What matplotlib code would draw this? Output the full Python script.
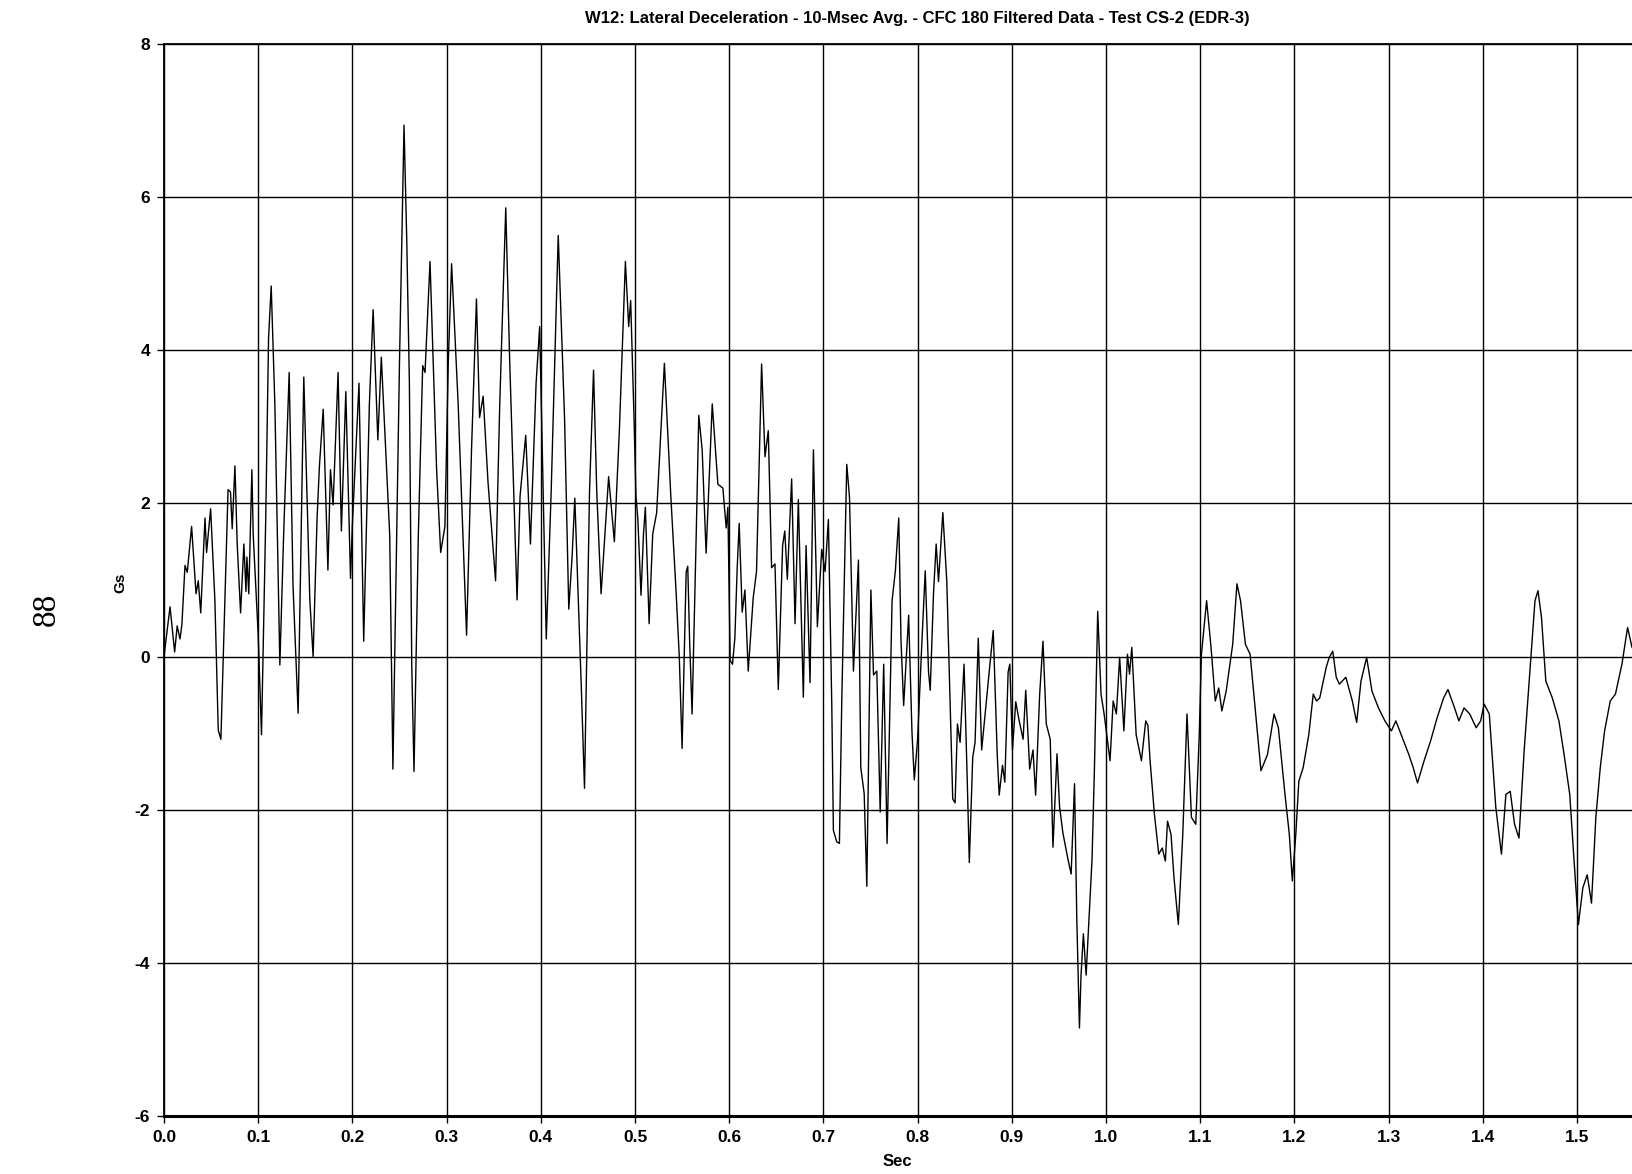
import matplotlib
matplotlib.use("Agg")
import matplotlib.pyplot as plt
from matplotlib import font_manager

# Trace: time (s) and lateral deceleration (G)
t_sec = [
    0.0, 0.0064, 0.0113, 0.014, 0.017, 0.019, 0.0223, 0.0247, 0.0293, 0.034,
    0.0364, 0.039, 0.0417, 0.0435, 0.0452, 0.0495, 0.054, 0.0576, 0.0604, 0.0647,
    0.068, 0.0706, 0.0724, 0.0753, 0.0777, 0.0813, 0.0848, 0.087, 0.088, 0.090,
    0.0933, 0.0947, 0.100, 0.1035, 0.108, 0.111, 0.1138, 0.1177, 0.123, 0.127,
    0.1329, 0.137, 0.1424, 0.146, 0.1484, 0.1548, 0.1583, 0.1625, 0.165, 0.169,
    0.174, 0.1767, 0.1795, 0.1848, 0.1883, 0.193, 0.198, 0.200, 0.207, 0.212,
    0.218, 0.222, 0.227, 0.2307, 0.2396, 0.243, 0.250, 0.2548,
    0.2577, 0.2605, 0.263, 0.2654, 0.270, 0.2746, 0.2771, 0.2824, 0.2894, 0.2937,
    0.2982, 0.3018, 0.3053, 0.3123, 0.3212, 0.3265, 0.3317, 0.335, 0.3388, 0.344,
    0.352, 0.3564, 0.3628, 0.367, 0.3748, 0.378, 0.384, 0.389, 0.395, 0.3988,
    0.4058, 0.411, 0.4185, 0.4252, 0.4297, 0.4332, 0.4361, 0.443, 0.4464, 0.4517,
    0.456, 0.4594, 0.464, 0.472, 0.4781, 0.4834, 0.4898, 0.4933, 0.4954, 0.499,
    0.501, 0.503, 0.5064, 0.509, 0.511, 0.515, 0.5188, 0.523, 0.5312, 0.538,
    0.5436, 0.547, 0.550, 0.5543, 0.556, 0.558, 0.5606, 0.565, 0.5677, 0.5713,
    0.5755, 0.582, 0.588, 0.5933, 0.5968, 0.5986, 0.601,
    0.6035, 0.606, 0.6085, 0.6106, 0.6138, 0.6167, 0.6202, 0.6255, 0.629, 0.6344,
    0.638, 0.6415, 0.645, 0.6486, 0.6521, 0.6567, 0.659, 0.6617, 0.6663, 0.6699,
    0.6734, 0.6787, 0.6816, 0.6858, 0.6894, 0.6936, 0.6982, 0.7018, 0.7053, 0.7089,
    0.7106, 0.7142, 0.717, 0.7195, 0.7248, 0.7277, 0.7319, 0.7372, 0.7397, 0.7433,
    0.7461, 0.7504, 0.7532, 0.7567, 0.7603,
    0.764, 0.7676, 0.7729, 0.7764, 0.780, 0.7824, 0.7852, 0.7905, 0.794, 0.7965,
    0.800, 0.8046, 0.8081, 0.8116, 0.8134, 0.8169, 0.8197, 0.8222, 0.8257, 0.8268,
    0.831, 0.8373, 0.8398, 0.8423, 0.8451, 0.8493, 0.8528, 0.8549, 0.8585, 0.861,
    0.8644, 0.868, 0.8725, 0.876, 0.8803, 0.8845, 0.8866, 0.8901, 0.8926, 0.8961,
    0.8979, 0.9007, 0.9042, 0.9077, 0.912, 0.9148, 0.919, 0.9225, 0.9253, 0.9296,
    0.9331, 0.9366, 0.9408, 0.9437, 0.948, 0.9507, 0.9542, 0.9595, 0.963, 0.9666,
    0.969, 0.9718, 0.9735, 0.976, 0.9789, 0.9824, 0.9852, 0.9877, 0.9912, 0.9947,
    0.998,
    1.0043, 1.0076, 1.011, 1.0145, 1.019, 1.0228, 1.025, 1.0274, 1.032, 1.0376,
    1.0422, 1.0445, 1.0468, 1.0514, 1.056, 1.0597, 1.063, 1.0653, 1.069, 1.0722,
    1.0768, 1.0815, 1.086, 1.0907, 1.0953, 1.099, 1.1013, 1.1068, 1.1115, 1.116,
    1.1197, 1.123, 1.1276, 1.1345, 1.139, 1.1428, 1.148, 1.153, 1.1576, 1.1645,
    1.1714, 1.1784, 1.183, 1.190, 1.1946, 1.1978, 1.2015, 1.2047, 1.2093, 1.2153,
    1.220, 1.2235, 1.2269, 1.2338, 1.237, 1.2407, 1.2444, 1.2477, 1.2546, 1.2615,
    1.2661, 1.2707, 1.2767, 1.2823, 1.2892, 1.2961, 1.303, 1.3077, 1.3146, 1.3215,
    1.3261, 1.3307, 1.3377, 1.3446, 1.3515, 1.3584, 1.363, 1.370, 1.3746, 1.3801,
    1.3861, 1.393, 1.3977, 1.4014, 1.4069, 1.4138, 1.4198, 1.4245, 1.4291, 1.4337,
    1.4384, 1.4439, 1.4508, 1.4554, 1.4586, 1.4623, 1.4669, 1.4738, 1.4808, 1.4863,
    1.4923, 1.4969, 1.5015, 1.5062, 1.5108, 1.5154, 1.520, 1.5247, 1.5293, 1.5353,
    1.5408, 1.5477, 1.5537, 1.5584,
]
g_val = [
    0.0, 0.65, 0.06, 0.40, 0.23, 0.42, 1.19, 1.10, 1.70, 0.82,
    0.99, 0.57, 1.30, 1.81, 1.36, 1.93, 0.74, -0.96, -1.08, 0.74,
    2.18, 2.15, 1.67, 2.49, 1.47, 0.57, 1.47, 0.85, 1.30, 0.82,
    2.44, 1.59, 0.28, -1.02, 1.81, 4.16, 4.84, 3.29, -0.11, 1.59,
    3.71, 0.91, -0.74, 1.87, 3.65, 0.74, 0.0, 1.81, 2.49, 3.23,
    1.13, 2.44, 1.98, 3.71, 1.64, 3.46, 1.02, 1.73, 3.57, 0.20,
    3.29, 4.53, 2.83, 3.91, 1.59, -1.47, 3.85, 6.94,
    5.44, 3.57, -0.11, -1.50, 1.59, 3.80, 3.71, 5.16, 2.44, 1.36,
    1.70, 3.85, 5.13, 3.29, 0.28, 2.72, 4.67, 3.12, 3.40, 2.27,
    0.99, 3.29, 5.86, 3.85, 0.74, 2.10, 2.89, 1.47, 3.57, 4.31,
    0.23, 2.15, 5.50, 3.12, 0.62, 1.30, 2.07, -0.40, -1.72, 2.15,
    3.74, 2.15, 0.82, 2.35, 1.50, 2.95, 5.16, 4.31, 4.65, 3.10,
    2.10, 1.80, 0.80, 1.60, 1.95, 0.43, 1.60, 1.88, 3.83, 2.10,
    0.85, 0.0, -1.20, 1.10, 1.18, 0.20, -0.75, 1.60, 3.15, 2.70,
    1.35, 3.30, 2.25, 2.20, 1.68, 1.95, -0.05,
    -0.10, 0.24, 1.16, 1.74, 0.58, 0.87, -0.19, 0.77, 1.11, 3.82,
    2.61, 2.95, 1.16, 1.21, -0.43, 1.45, 1.64, 1.01, 2.32, 0.43,
    2.05, -0.53, 1.45, -0.34, 2.70, 0.39, 1.40, 1.11, 1.79, -0.63,
    -2.27, -2.42, -2.44, -0.58, 2.51, 2.08, -0.19, 1.26, -1.45, -1.79,
    -3.00, 0.87, -0.24, -0.19, -2.03,
    -0.10, -2.44, 0.73, 1.12, 1.81, 0.20, -0.64, 0.54, -0.98, -1.61,
    -1.08, 0.20, 1.12, -0.20, -0.44, 0.83, 1.47, 0.98, 1.66, 1.88,
    0.98, -1.86, -1.91, -0.88, -1.12, -0.10, -1.66, -2.69, -1.32, -1.12,
    0.24, -1.22, -0.64, -0.20, 0.34, -1.27, -1.81, -1.42, -1.64, -0.20,
    -0.10, -1.22, -0.59, -0.83, -1.08, -0.44, -1.47, -1.22, -1.81, -0.49,
    0.20, -0.88, -1.08, -2.49, -1.27, -1.96, -2.30, -2.64, -2.84, -1.66,
    -3.42, -4.85, -4.16, -3.62, -4.16, -3.33, -2.64, -1.47, 0.59, -0.49,
    -0.75,
    -1.36, -0.58, -0.75, -0.01, -0.97, 0.03, -0.23, 0.12, -1.02, -1.36,
    -0.84, -0.90, -1.36, -2.06, -2.58, -2.50, -2.67, -2.15, -2.32, -2.89,
    -3.50, -2.32, -0.75, -2.10, -2.19, -1.02, 0.03, 0.73, 0.12, -0.58,
    -0.41, -0.71, -0.45, 0.16, 0.95, 0.73, 0.16, 0.03, -0.58, -1.49,
    -1.28, -0.75, -0.93, -1.80, -2.32, -2.93, -2.32, -1.63, -1.45, -1.02,
    -0.49, -0.58, -0.54, -0.14, -0.01, 0.07, -0.27, -0.36, -0.27, -0.58,
    -0.86, -0.32, -0.01, -0.45, -0.67, -0.84, -0.97, -0.84, -1.06, -1.28,
    -1.45, -1.65, -1.36, -1.10, -0.80, -0.54, -0.43, -0.67, -0.84, -0.67,
    -0.75, -0.93, -0.84, -0.62, -0.75, -1.97, -2.58, -1.80, -1.76, -2.19,
    -2.37, -1.23, -0.06, 0.73, 0.86, 0.51, -0.32, -0.54, -0.84, -1.28,
    -1.80, -2.67, -3.50, -3.02, -2.85, -3.22, -2.10, -1.45, -0.97, -0.58,
    -0.49, -0.10, 0.38, 0.12,
]

x_ticks = [round(0.1 * i, 1) for i in range(16)]
x_labels = ["%.1f" % v for v in x_ticks]
y_ticks = [-6, -4, -2, 0, 2, 4, 6, 8]
y_labels = [str(v) for v in y_ticks]

title = "W12: Lateral Deceleration - 10-Msec Avg. - CFC 180 Filtered Data - Test CS-2 (EDR-3)"

names = {f.name for f in font_manager.fontManager.ttflist}
fam = ["Liberation Sans Narrow"] if "Liberation Sans Narrow" in names else []
fam += ["Liberation Sans", "DejaVu Sans"]

plt.rcParams["axes.unicode_minus"] = False

fig = plt.figure(figsize=(16.32, 11.74), dpi=100)
ax = fig.add_axes([164 / 1632, 1 - 1116 / 1174, 1 - 164 / 1632, (1116 - 44) / 1174])

ax.plot(t_sec, g_val, color="black", linewidth=1.0)

ax.set_xlim(0, (1632 - 164) / 942)
ax.set_ylim(-6, 8)
ax.set_xticks(x_ticks)
ax.set_xticklabels(x_labels, fontfamily=fam, fontweight="bold", fontsize=12.5)
ax.set_yticks(y_ticks)
ax.set_yticklabels(y_labels, fontfamily=fam, fontweight="bold", fontsize=12.5)
ax.tick_params(length=5, width=1, color="black", pad=5)
ax.grid(True, color="black", linewidth=1.0)
ax.set_axisbelow(True)

ax.spines["right"].set_visible(False)
ax.spines["top"].set_linewidth(1.3)
ax.spines["left"].set_linewidth(1.3)
ax.spines["bottom"].set_linewidth(2.2)

fig.text(917 / 1632, 1 - 18 / 1174, title, ha="center", va="center",
         fontfamily=fam, fontweight="bold", fontsize=12)
fig.text(897 / 1632, 1 - 1162 / 1174, "Sec", ha="center", va="center",
         fontfamily=fam, fontweight="bold", fontsize=12)
fig.text(120 / 1632, 1 - 583 / 1174, "Gs", ha="center", va="center",
         rotation=90, fontfamily=fam, fontweight="bold", fontsize=11)
fig.text(47 / 1632, 1 - 609 / 1174, "88", ha="center", va="center",
         rotation=90, fontfamily=["Liberation Serif", "DejaVu Serif"], fontsize=24)

fig.savefig("out.png", dpi=100)
